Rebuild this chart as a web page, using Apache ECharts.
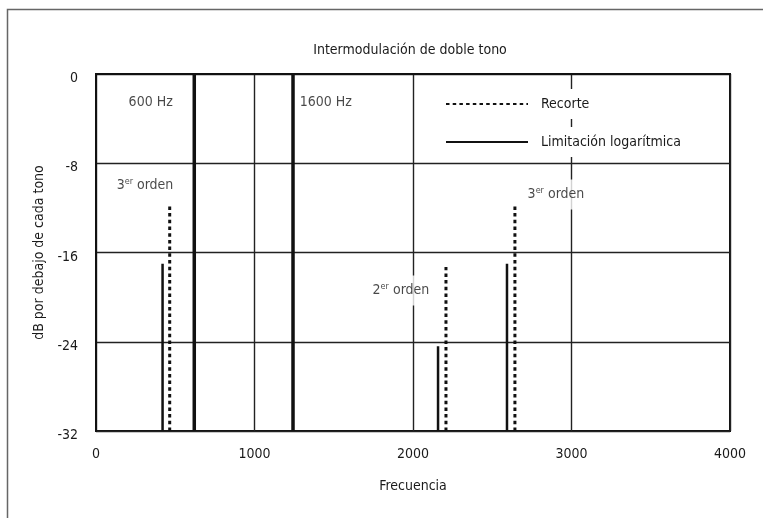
<!DOCTYPE html>
<html>
<head>
<meta charset="utf-8">
<script src="https://cdn.jsdelivr.net/npm/echarts@6/dist/echarts.min.js"></script>
<style>
  html, body { margin: 0; padding: 0; background: #fff; }
  #chart { width: 763px; height: 518px; }
</style>
</head>
<body>
<div id="chart"></div>
<script>
// ejes
var xTicks = [0, 1000, 2000, 3000, 4000];
var yTicks = [0, -8, -16, -24, -32];
var baseY = -32;

// tonos de prueba (600 Hz y 1600 Hz, tal como están dibujados)
var toneX = [620, 1243];
var toneY = [0, 0];

// productos de intermodulación
var recorteX = [465, 2208, 2643];
var recorteY = [-11.6, -17.3, -11.6];
var limitX = [420, 2158, 2593];
var limitY = [-17, -24.4, -17];

// anotaciones
var notaX = [345, 1450, 309, 2902, 1924];
var notaY = [-2.5, -2.5, -10, -10.8, -19.4];
var notaTxt = ['600 Hz', '1600 Hz', '{a|3}{s|er}{a| orden}', '{a|3}{s|er}{a| orden}', '{a|2}{s|er}{a| orden}'];

var fuente = "'Liberation Sans Narrow', 'DejaVu Sans Condensed', 'Liberation Sans', sans-serif";

function vline(name, x, y, width, type) {
  return {
    type: 'line',
    name: name,
    data: [[x, baseY], [x, y]],
    symbol: 'none',
    silent: true,
    lineStyle: { color: '#111', width: width, type: type, cap: 'butt' },
    itemStyle: { color: '#111' },
    z: 3
  };
}

var series = [];
for (var i = 0; i < toneX.length; i++) series.push(vline('tono', toneX[i], toneY[i], 3.5, 'solid'));
for (var i = 0; i < recorteX.length; i++) series.push(vline('Recorte', recorteX[i], recorteY[i], 3, [3.5, 3.2]));
for (var i = 0; i < limitX.length; i++) series.push(vline('Limitación logarítmica', limitX[i], limitY[i], 2.5, 'solid'));

series.push({
  type: 'scatter',
  name: 'notas',
  silent: true,
  symbolSize: 1,
  itemStyle: { color: 'rgba(0,0,0,0)' },
  z: 5,
  data: notaX.map(function (x, k) {
    return {
      value: [x, notaY[k]],
      label: {
        show: true,
        position: 'inside',
        formatter: notaTxt[k],
        color: '#1a1a1a',
        fontFamily: fuente,
        fontSize: 14,
        backgroundColor: '#fff',
        padding: [7, 3],
        rich: {
          a: { fontFamily: fuente, fontSize: 14, color: '#1a1a1a' },
          s: { fontFamily: fuente, fontSize: 9, color: '#1a1a1a', padding: [0, 0, 7, 0] }
        }
      }
    };
  })
});

var chart = echarts.init(document.getElementById('chart'));
chart.setOption({
  animation: false,
  backgroundColor: '#fff',
  textStyle: { fontFamily: fuente },
  title: {
    text: 'Intermodulación de doble tono',
    left: 405,
    textAlign: 'center',
    top: 38,
    textStyle: { fontFamily: fuente, fontSize: 14, fontWeight: 'normal', color: '#1a1a1a' }
  },
  graphic: [{
    type: 'rect',
    left: 5, top: 7,
    shape: { width: 800, height: 600 },
    style: { fill: 'none', stroke: '#666', lineWidth: 1.5 },
    silent: true
  }],
  legend: {
    data: ['Recorte', 'Limitación logarítmica'],
    orient: 'vertical',
    left: 440,
    top: 84,
    itemWidth: 82,
    itemHeight: 14,
    itemGap: 8,
    selectedMode: false,
    itemStyle: { opacity: 0 },
    textStyle: {
      fontFamily: fuente, fontSize: 14, color: '#1a1a1a',
      backgroundColor: '#fff', padding: [8, 4, 8, 8]
    }
  },
  grid: {
    left: 96, right: 33, top: 74, bottom: 87,
    show: true, borderColor: '#111', borderWidth: 2
  },
  xAxis: {
    type: 'value',
    min: xTicks[0], max: xTicks[xTicks.length - 1], interval: 1000,
    name: 'Frecuencia', nameLocation: 'middle', nameGap: 48,
    nameTextStyle: { fontFamily: fuente, fontSize: 14, color: '#1a1a1a' },
    axisLine: { show: true, lineStyle: { color: '#111', width: 2 } },
    axisTick: { show: false },
    axisLabel: {
      margin: 16, fontFamily: fuente, fontSize: 14, color: '#1a1a1a',
      formatter: function (v) { return String(v); }
    },
    splitLine: { lineStyle: { color: '#222', width: 1.4 } }
  },
  yAxis: {
    type: 'value',
    min: yTicks[yTicks.length - 1], max: yTicks[0], interval: 8,
    name: 'dB por debajo de cada tono', nameLocation: 'middle', nameGap: 47,
    nameTextStyle: { fontFamily: fuente, fontSize: 14, color: '#1a1a1a' },
    axisLine: { show: true, lineStyle: { color: '#111', width: 2 } },
    axisTick: { show: false },
    axisLabel: {
      margin: 18, color: '#1a1a1a',
      formatter: function (v) { return '{v|' + v + '}'; },
      rich: { v: { fontFamily: fuente, fontSize: 14, color: '#1a1a1a', padding: [9, 0, 0, 0] } }
    },
    splitLine: { lineStyle: { color: '#222', width: 1.4 } }
  },
  series: series
});
window.addEventListener('resize', function () { chart.resize(); });
</script>
</body>
</html>
